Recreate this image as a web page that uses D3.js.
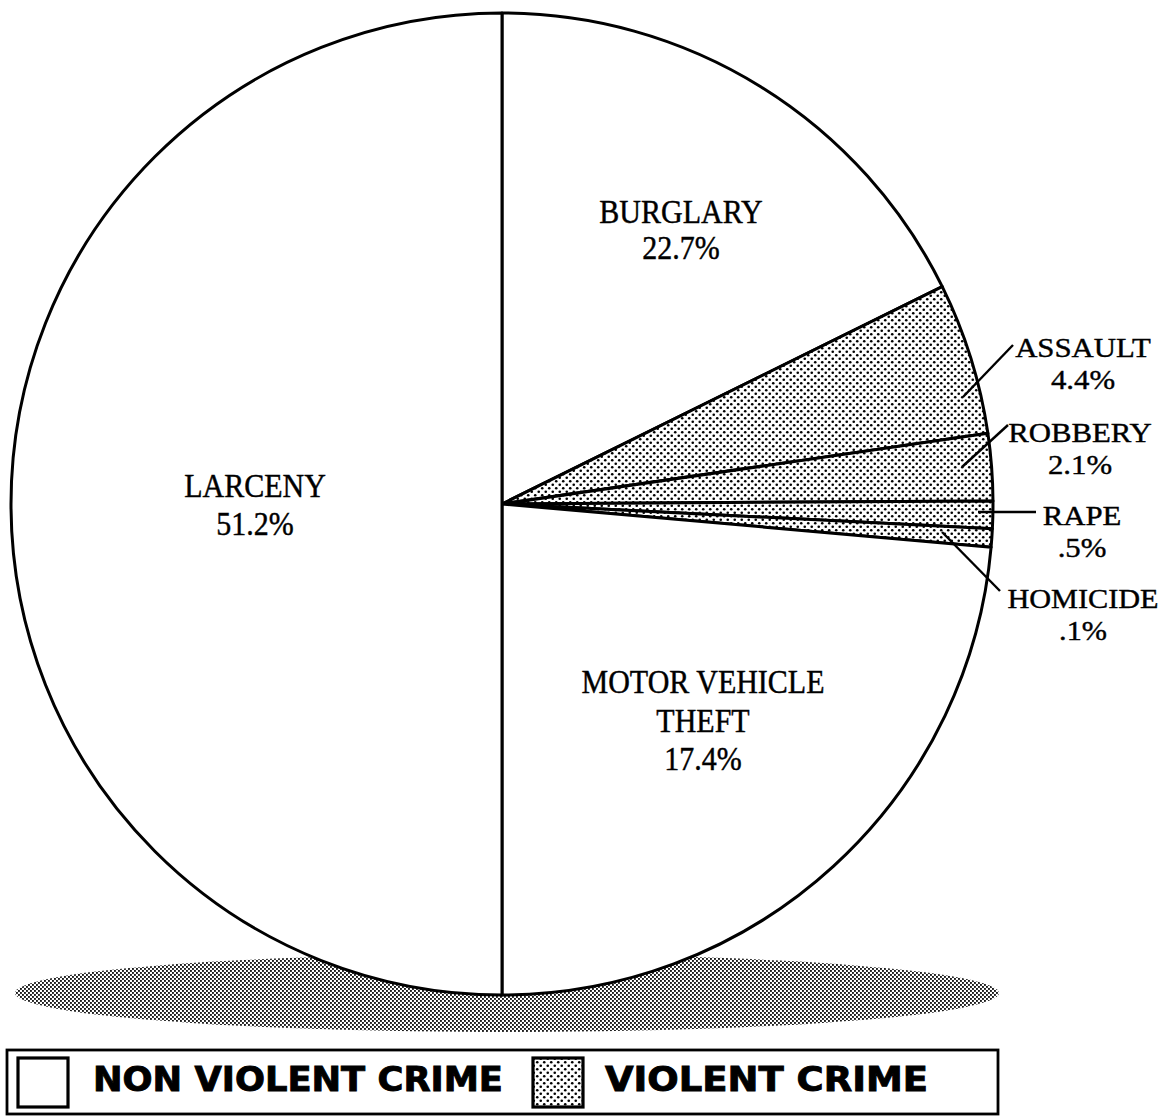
<!DOCTYPE html>
<html>
<head>
<meta charset="utf-8">
<script src="https://cdn.jsdelivr.net/npm/d3@7"></script>
<style>
  body { margin: 0; background: #fff; }
  svg { display: block; }
</style>
</head>
<body>
<div id="chart"></div>
<script>
// slices clockwise from 12 o'clock
var crimes = ["BURGLARY", "ASSAULT", "ROBBERY", "RAPE", "HOMICIDE", "MOTOR VEHICLE THEFT", "LARCENY"];
var pctLabels = ["22.7%", "4.4%", "2.1%", ".5%", ".1%", "17.4%", "51.2%"];
// share of the circle as the slices are actually drawn in the picture
var drawnShare = [17.7, 5.0, 2.2, 0.9, 0.6, 23.6, 50.0];
var violent = [false, true, true, true, true, false, false];
var legendNames = ["NON VIOLENT CRIME", "VIOLENT CRIME"];

var W = 1160, H = 1119;
var cx = 502, cy = 504, R = 491;

var svg = d3.select("#chart").append("svg")
	.attr("width", W)
	.attr("height", H);

var defs = svg.append("defs");
var dots = defs.append("pattern").attr("id", "dots")
	.attr("patternUnits", "userSpaceOnUse")
	.attr("width", 7).attr("height", 7);
dots.append("rect").attr("width", 7).attr("height", 7).attr("fill", "#fff");
dots.append("circle").attr("cx", 1.75).attr("cy", 1.75).attr("r", 1.3).attr("fill", "#000");
dots.append("circle").attr("cx", 5.25).attr("cy", 5.25).attr("r", 1.3).attr("fill", "#000");

var halftone = defs.append("pattern").attr("id", "halftone")
	.attr("patternUnits", "userSpaceOnUse")
	.attr("width", 4).attr("height", 4);
halftone.append("rect").attr("width", 4).attr("height", 4).attr("fill", "#fff");
halftone.append("rect").attr("x", 0).attr("y", 0).attr("width", 1.9).attr("height", 1.9).attr("fill", "#1a1a1a");
halftone.append("rect").attr("x", 2).attr("y", 2).attr("width", 1.9).attr("height", 1.9).attr("fill", "#1a1a1a");

// shadow under the pie
svg.append("ellipse")
	.attr("cx", 507).attr("cy", 993)
	.attr("rx", 492).attr("ry", 39)
	.attr("fill", "url(#halftone)");

var table = crimes.map(function(c, i) {
	return {name: c, pct: pctLabels[i], share: drawnShare[i], violent: violent[i]};
});

var pie = d3.pie().sort(null).value(function(d) { return d.share; });
var arc = d3.arc().innerRadius(0).outerRadius(R);

var g = svg.append("g").attr("transform", "translate(" + cx + "," + cy + ")");

g.selectAll("path.slice")
	.data(pie(table))
	.enter().append("path")
	.attr("class", "slice")
	.attr("d", arc)
	.attr("fill", function(d) { return d.data.violent ? "url(#dots)" : "#fff"; })
	.attr("stroke", "#000")
	.attr("stroke-width", 3)
	.attr("stroke-linejoin", "round");

// labels: [lines, x, first baseline, line gap, font size, x stretch, y stretch]
var labelPos = {
	"BURGLARY": [["BURGLARY", "22.7%"], 681, 223, 36, 30, 1, 1.1],
	"LARCENY": [["LARCENY", "51.2%"], 255, 497, 38, 30, 1, 1.1],
	"MOTOR VEHICLE THEFT": [["MOTOR VEHICLE", "THEFT", "17.4%"], 703, 693, 38.5, 30, 1, 1.1],
	"ASSAULT": [["ASSAULT", "4.4%"], 1083, 357, 31.5, 28, 1.1, 1.0],
	"ROBBERY": [["ROBBERY", "2.1%"], 1080, 442, 31.5, 28, 1.1, 1.0],
	"RAPE": [["RAPE", ".5%"], 1082, 525, 31.5, 28, 1.1, 1.0],
	"HOMICIDE": [["HOMICIDE", ".1%"], 1083, 608, 31.5, 28, 1.08, 1.0]
};

// leader lines for the thin slices
var leaders = [
	[963, 397, 1013, 345],
	[962, 467, 1008, 425],
	[978, 512, 1036, 512],
	[942, 532, 1000, 591]
];
svg.selectAll("line.leader")
	.data(leaders)
	.enter().append("line")
	.attr("class", "leader")
	.attr("x1", function(d) { return d[0]; })
	.attr("y1", function(d) { return d[1]; })
	.attr("x2", function(d) { return d[2]; })
	.attr("y2", function(d) { return d[3]; })
	.attr("stroke", "#000")
	.attr("stroke-width", 2.4);

table.forEach(function(d) {
	var p = labelPos[d.name];
	var lines = p[0].slice(0, -1).concat([d.pct]);
	lines.forEach(function(t, k) {
		var y = p[2] + k * p[3];
		svg.append("text")
			.attr("transform", "translate(" + p[1] + "," + y + ") scale(" + p[5] + "," + p[6] + ")")
			.attr("text-anchor", "middle")
			.style("font-family", "'Liberation Serif', 'DejaVu Serif', serif")
			.style("font-size", p[4] + "px")
			.attr("fill", "#000")
			.attr("stroke", "#000")
			.attr("stroke-width", 0.4)
			.text(t);
	});
});

// legend
var legend = svg.append("g");
legend.append("rect")
	.attr("x", 7).attr("y", 1050)
	.attr("width", 991).attr("height", 64)
	.attr("fill", "#fff")
	.attr("stroke", "#000")
	.attr("stroke-width", 2.8);

var legendItems = [
	{name: legendNames[0], fill: "#fff", sx: 18, tx: 93, tw: 410},
	{name: legendNames[1], fill: "url(#dots)", sx: 533, tx: 605, tw: 323}
];
legend.selectAll("rect.swatch")
	.data(legendItems)
	.enter().append("rect")
	.attr("class", "swatch")
	.attr("x", function(d) { return d.sx; })
	.attr("y", 1058)
	.attr("width", 50).attr("height", 49)
	.attr("fill", function(d) { return d.fill; })
	.attr("stroke", "#000")
	.attr("stroke-width", 3.2);
legend.selectAll("text.lg")
	.data(legendItems)
	.enter().append("text")
	.attr("class", "lg")
	.attr("x", function(d) { return d.tx; })
	.attr("y", 1091)
	.attr("textLength", function(d) { return d.tw; })
	.attr("lengthAdjust", "spacingAndGlyphs")
	.style("font-family", "'DejaVu Sans', sans-serif")
	.style("font-weight", "bold")
	.style("font-size", "33px")
	.attr("stroke", "#000")
	.attr("stroke-width", 0.9)
	.text(function(d) { return d.name; });
</script>
</body>
</html>
